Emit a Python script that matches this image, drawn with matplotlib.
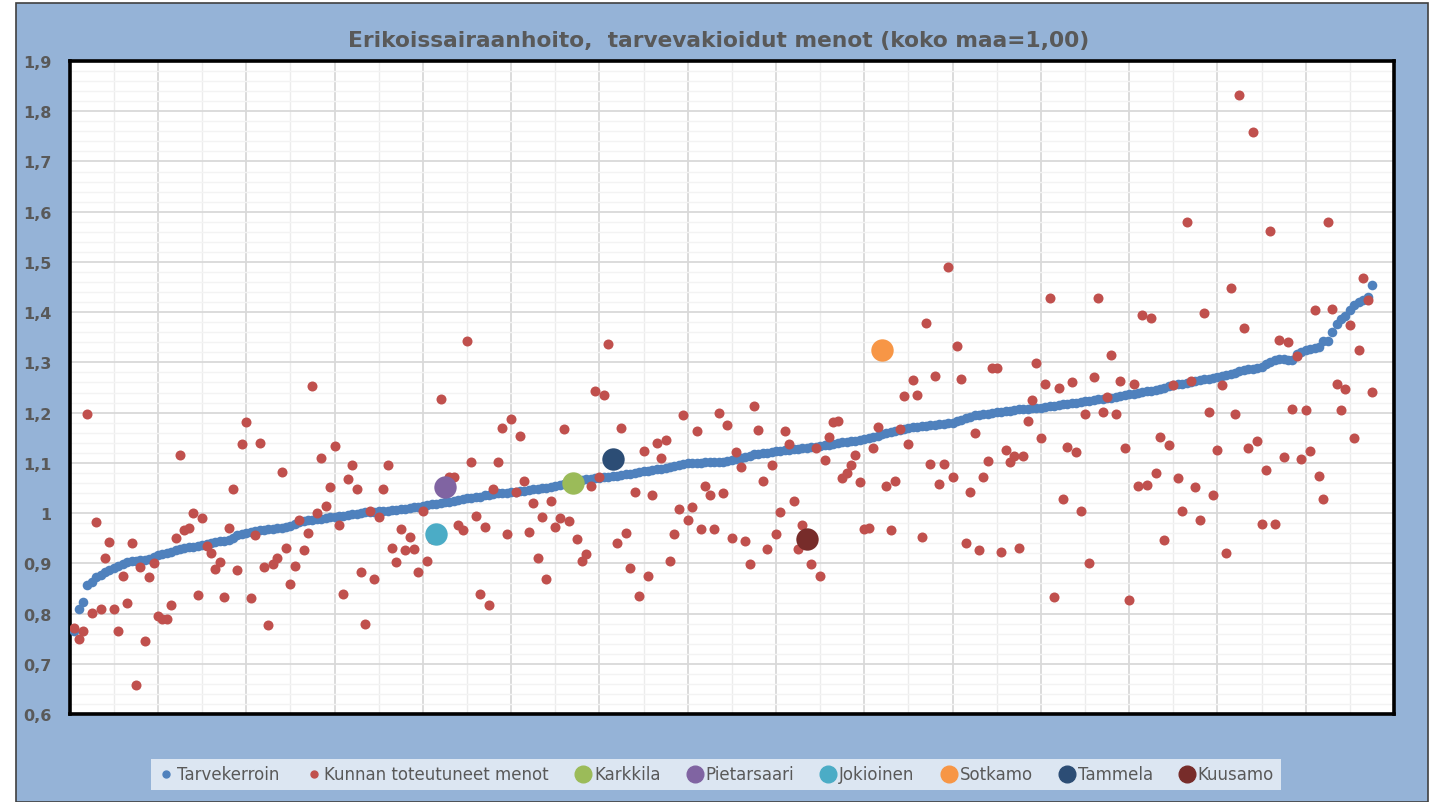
import numpy as np
import matplotlib
matplotlib.use("Agg")
import matplotlib.pyplot as plt
from matplotlib.lines import Line2D
from matplotlib.patches import Rectangle

# Tarvekerroin (sorted), kunnat 1..295
tarvekerroin = [
    0.765, 0.810, 0.823, 0.857, 0.862, 0.872, 0.877, 0.882, 0.886, 0.890,
    0.894, 0.898, 0.902, 0.904, 0.905, 0.906, 0.907, 0.909, 0.912, 0.916,
    0.918, 0.920, 0.923, 0.926, 0.928, 0.930, 0.932, 0.933, 0.934, 0.936,
    0.938, 0.940, 0.943, 0.944, 0.945, 0.946, 0.950, 0.956, 0.959, 0.961,
    0.962, 0.964, 0.966, 0.967, 0.968, 0.969, 0.970, 0.971, 0.973, 0.975,
    0.979, 0.982, 0.984, 0.986, 0.987, 0.988, 0.989, 0.990, 0.992, 0.993,
    0.994, 0.995, 0.997, 0.998, 0.999, 1.001, 1.002, 1.003, 1.003, 1.004,
    1.004, 1.005, 1.006, 1.007, 1.008, 1.009, 1.010, 1.012, 1.013, 1.015,
    1.016, 1.018, 1.019, 1.020, 1.022, 1.023, 1.025, 1.026, 1.028, 1.030,
    1.031, 1.032, 1.033, 1.035, 1.036, 1.037, 1.039, 1.040, 1.040, 1.041,
    1.042, 1.043, 1.044, 1.045, 1.047, 1.048, 1.049, 1.050, 1.052, 1.053,
    1.055, 1.057, 1.059, 1.061, 1.063, 1.065, 1.067, 1.068, 1.069, 1.070,
    1.071, 1.072, 1.073, 1.074, 1.075, 1.077, 1.078, 1.080, 1.081, 1.083,
    1.084, 1.085, 1.087, 1.088, 1.090, 1.092, 1.093, 1.095, 1.097, 1.099,
    1.099, 1.100, 1.100, 1.101, 1.101, 1.101, 1.102, 1.102, 1.103, 1.105,
    1.107, 1.109, 1.111, 1.114, 1.117, 1.118, 1.119, 1.120, 1.122, 1.123,
    1.124, 1.125, 1.126, 1.127, 1.128, 1.129, 1.130, 1.131, 1.132, 1.133,
    1.135, 1.136, 1.138, 1.140, 1.141, 1.142, 1.143, 1.144, 1.146, 1.147,
    1.149, 1.151, 1.154, 1.157, 1.160, 1.162, 1.164, 1.166, 1.168, 1.170,
    1.171, 1.172, 1.173, 1.174, 1.175, 1.176, 1.177, 1.178, 1.179, 1.180,
    1.183, 1.186, 1.189, 1.192, 1.195, 1.196, 1.197, 1.198, 1.200, 1.201,
    1.202, 1.203, 1.204, 1.205, 1.207, 1.208, 1.208, 1.209, 1.209, 1.210,
    1.211, 1.213, 1.214, 1.215, 1.217, 1.218, 1.219, 1.220, 1.222, 1.223,
    1.224, 1.225, 1.227, 1.228, 1.229, 1.230, 1.232, 1.233, 1.235, 1.237,
    1.238, 1.240, 1.241, 1.243, 1.244, 1.246, 1.248, 1.250, 1.252, 1.254,
    1.256, 1.257, 1.259, 1.261, 1.263, 1.264, 1.266, 1.267, 1.269, 1.271,
    1.272, 1.274, 1.276, 1.279, 1.283, 1.284, 1.286, 1.287, 1.288, 1.290,
    1.296, 1.301, 1.305, 1.306, 1.306, 1.305, 1.305, 1.316, 1.320, 1.324,
    1.326, 1.328, 1.330, 1.342, 1.343, 1.360, 1.377, 1.386, 1.393, 1.405,
    1.415, 1.420, 1.425, 1.430, 1.455,
]

# Kunnan toteutuneet menot, same order
menot = [
    0.771, 0.749, 0.765, 1.198, 0.801, 0.983, 0.810, 0.911, 0.943, 0.810,
    0.765, 0.875, 0.820, 0.941, 0.658, 0.893, 0.746, 0.873, 0.901, 0.795,
    0.789, 0.789, 0.817, 0.951, 1.116, 0.967, 0.971, 1.000, 0.836, 0.990,
    0.935, 0.921, 0.888, 0.903, 0.833, 0.970, 1.048, 0.886, 1.137, 1.181,
    0.831, 0.957, 1.139, 0.893, 0.778, 0.898, 0.911, 1.082, 0.930, 0.859,
    0.895, 0.987, 0.927, 0.961, 1.252, 1.000, 1.110, 1.015, 1.052, 1.133,
    0.977, 0.838, 1.068, 1.095, 1.047, 0.882, 0.780, 1.005, 0.869, 0.992,
    1.047, 1.095, 0.931, 0.903, 0.969, 0.927, 0.953, 0.929, 0.882, 1.005,
    0.905, 0.948, 0.958, 1.228, 1.052, 1.072, 1.072, 0.977, 0.967, 1.343,
    1.102, 0.995, 0.838, 0.973, 0.817, 1.047, 1.102, 1.170, 0.958, 1.187,
    1.042, 1.153, 1.063, 0.963, 1.021, 0.911, 0.992, 0.869, 1.024, 0.973,
    0.990, 1.168, 0.985, 1.060, 0.948, 0.905, 0.919, 1.053, 1.244, 1.071,
    1.236, 1.337, 1.108, 0.940, 1.170, 0.961, 0.890, 1.042, 0.835, 1.123,
    0.875, 1.035, 1.139, 1.110, 1.145, 0.905, 0.958, 1.008, 1.195, 0.987,
    1.013, 1.163, 0.969, 1.053, 1.035, 0.969, 1.200, 1.040, 1.175, 0.950,
    1.121, 1.092, 0.945, 0.898, 1.213, 1.165, 1.063, 0.929, 1.095, 0.958,
    1.003, 1.163, 1.137, 1.024, 0.929, 0.977, 0.948, 0.898, 1.129, 0.874,
    1.105, 1.152, 1.181, 1.183, 1.069, 1.079, 1.095, 1.115, 1.061, 0.969,
    0.971, 1.129, 1.171, 1.325, 1.053, 0.966, 1.063, 1.168, 1.233, 1.137,
    1.265, 1.236, 0.953, 1.378, 1.097, 1.273, 1.058, 1.097, 1.490, 1.071,
    1.333, 1.267, 0.940, 1.042, 1.160, 0.927, 1.071, 1.103, 1.289, 1.289,
    0.922, 1.126, 1.102, 1.113, 0.931, 1.113, 1.184, 1.225, 1.299, 1.149,
    1.257, 1.428, 0.832, 1.249, 1.029, 1.131, 1.260, 1.121, 1.005, 1.197,
    0.900, 1.270, 1.428, 1.202, 1.231, 1.315, 1.197, 1.262, 1.129, 0.827,
    1.257, 1.053, 1.395, 1.055, 1.389, 1.079, 1.152, 0.947, 1.136, 1.255,
    1.070, 1.004, 1.579, 1.262, 1.051, 0.987, 1.399, 1.201, 1.036, 1.125,
    1.255, 0.921, 1.448, 1.198, 1.833, 1.368, 1.130, 1.758, 1.143, 0.979,
    1.086, 1.562, 0.979, 1.344, 1.112, 1.340, 1.208, 1.312, 1.107, 1.206,
    1.123, 1.404, 1.073, 1.028, 1.579, 1.407, 1.257, 1.206, 1.248, 1.375,
    1.149, 1.325, 1.468, 1.425, 1.242,
]

# highlighted municipalities
kunnat = ["Karkkila", "Pietarsaari", "Jokioinen", "Sotkamo", "Tammela", "Kuusamo"]
kunnat_sija = [114, 85, 83, 184, 123, 167]
kunnat_arvo = [1.060, 1.052, 0.958, 1.325, 1.108, 0.948]
kunnat_vari = ["#9BBB59", "#8064A2", "#4BACC6", "#F79646", "#2C4D75", "#772C2A"]

title = "Erikoissairaanhoito,  tarvevakioidut menot (koko maa=1,00)"
grey = "#595959"

W, H = 1438, 803
fig = plt.figure(figsize=(W / 100, H / 100), dpi=100, facecolor="white")
bg = Rectangle((16 / W, 0), (1428 - 16) / W, 1 - 4 / H,
               transform=fig.transFigure, facecolor="#95B3D7",
               edgecolor="#404040", lw=1.2, zorder=-10)
fig.patches.append(bg)

ax = fig.add_axes([69.7 / W, 1 - 715 / H, (1394 - 69.7) / W, (715 - 62) / H])
ax.set_zorder(1)
ax.set_facecolor("white")

x = np.arange(1, len(tarvekerroin) + 1)
ax.scatter(x, tarvekerroin, s=48, color="#4F81BD", linewidths=0, zorder=3)
ax.scatter(x, menot, s=52, color="#C0504D", linewidths=0, zorder=4)
for nimi, sija, arvo, vari in zip(kunnat, kunnat_sija, kunnat_arvo, kunnat_vari):
    ax.scatter([sija], [arvo], s=260, color=vari, linewidths=0, zorder=5)

ax.set_xlim(0, 300)
ax.set_ylim(0.6, 1.9)
ax.set_xticks(np.arange(0, 301, 20))
ax.set_xticks(np.arange(10, 300, 20), minor=True)
ax.set_yticks(np.arange(0.6, 1.91, 0.1))
ax.set_yticks(np.arange(0.6, 1.9, 0.02), minor=True)
ax.grid(True, which="major", axis="both", color="#D9D9D9", lw=1.3, zorder=0)
ax.grid(True, which="minor", axis="y", color="#F3F3F3", lw=1.0, zorder=0)
ax.grid(True, which="minor", axis="x", color="#ECECEC", lw=1.0, zorder=0)
ax.set_axisbelow(True)

ylabels = []
for v in np.arange(0.6, 1.91, 0.1):
    t = f"{v:.1f}".replace(".", ",")
    ylabels.append("1" if t == "1,0" else t)
ax.set_yticklabels(ylabels)
ax.tick_params(axis="both", which="both", length=0)
ax.tick_params(axis="x", labelbottom=False)
ax.tick_params(axis="y", pad=13, labelsize=11.5, labelcolor=grey)
for lab in ax.get_yticklabels():
    lab.set_fontweight("bold")

for s in ax.spines.values():
    s.set_color("black")
    s.set_linewidth(2.6)

fig.text(0.5, 1 - 41 / H, title, ha="center", va="center",
         fontsize=15.7, fontweight="bold", color=grey)

handles = [Line2D([], [], ls="none", marker="o", ms=5, color="#4F81BD"),
           Line2D([], [], ls="none", marker="o", ms=5, color="#C0504D")]
labels = ["Tarvekerroin", "Kunnan toteutuneet menot"]
for nimi, vari in zip(kunnat, kunnat_vari):
    handles.append(Line2D([], [], ls="none", marker="o", ms=12, color=vari))
    labels.append(nimi)
leg = fig.legend(handles, labels, loc="center", ncol=8,
                 bbox_to_anchor=((147 + 1285) / 2 / W, 1 - 775.5 / H),
                 frameon=True, facecolor="#DCE6F2", edgecolor="none",
                 fontsize=12, handlelength=1.0, handletextpad=0.15,
                 columnspacing=1.55, borderpad=0.4, fancybox=False)
leg.get_frame().set_alpha(1)
for t in leg.get_texts():
    t.set_color(grey)

fig.savefig("out.png", dpi=100, facecolor=fig.get_facecolor())
